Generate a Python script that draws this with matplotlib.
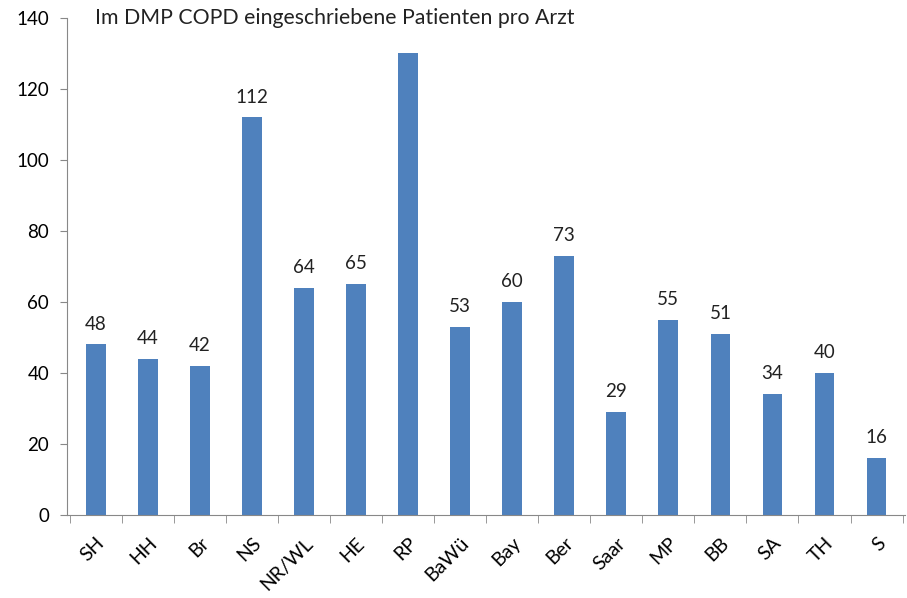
import matplotlib
matplotlib.use("Agg")
import matplotlib.pyplot as plt

categories = ["SH", "HH", "Br", "NS", "NR/WL", "HE", "RP", "BaWü", "Bay", "Ber",
              "Saar", "MP", "BB", "SA", "TH", "S"]
values = [48, 44, 42, 112, 64, 65, 130, 53, 60, 73, 29, 55, 51, 34, 40, 16]
show_label = [True, True, True, True, True, True, False, True, True, True,
              True, True, True, True, True, True]
title = "Im DMP COPD eingeschriebene Patienten pro Arzt"
yticks = [0, 20, 40, 60, 80, 100, 120, 140]

plt.rcParams['font.family'] = ['Lato', 'DejaVu Sans']

fig = plt.figure(figsize=(9.07, 5.98), dpi=100)
ax = fig.add_axes([0.074, 0.139, 0.924, 0.831])

x = list(range(len(categories)))
bars = ax.bar(x, values, width=0.38, color="#4F81BD", zorder=2)

for xi, v, s in zip(x, values, show_label):
    if s:
        ax.text(xi, v + 3.3, str(v), ha="center", va="bottom", fontsize=13.5, color="#222222")

ax.set_xlim(-0.55, len(categories) - 0.45)
ax.set_ylim(0, 140)
ax.set_yticks(yticks)
ax.set_yticklabels([str(t) for t in yticks], fontsize=13.5)

ax.set_xticks(x)
ax.set_xticklabels(categories, rotation=45, ha="right", rotation_mode="anchor", fontsize=14)
ax.tick_params(axis="x", length=0, pad=14)
ax.set_xticks([i - 0.5 for i in range(len(categories) + 1)], minor=True)
ax.tick_params(axis="x", which="minor", length=6, color="#888888", direction="out")
ax.tick_params(axis="y", length=5, color="#888888", direction="out", pad=8)

for side in ["top", "right"]:
    ax.spines[side].set_visible(False)
ax.spines["left"].set_color("#888888")
ax.spines["bottom"].set_color("#888888")

ax.text(0.033, 1.0, title, transform=ax.transAxes, ha="left", va="center", fontsize=15.3, color="#222222")

fig.savefig("out.png", dpi=100)
